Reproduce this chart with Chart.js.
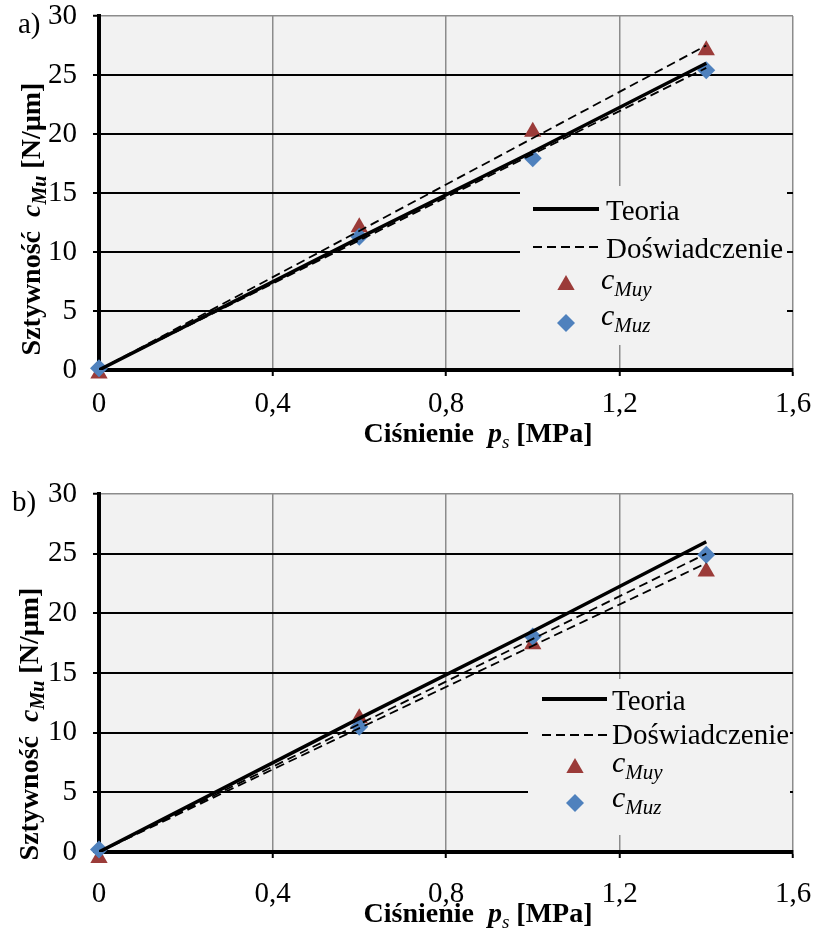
<!DOCTYPE html>
<html>
<head>
<meta charset="utf-8">
<script src="https://cdn.jsdelivr.net/npm/chart.js@4/dist/chart.umd.min.js"></script>
<style>
  html, body { margin: 0; padding: 0; background: #fff; }
  .panel { position: absolute; left: 0; width: 815px; }
  #wrapA { top: 0; height: 465px; }
  #wrapB { top: 465px; height: 464px; }
</style>
</head>
<body>
<div class="panel" id="wrapA"><canvas id="chartA" width="815" height="465"></canvas></div>
<div class="panel" id="wrapB"><canvas id="chartB" width="815" height="464"></canvas></div>
<script>
// dane
const cisnienie = [0, 0.6, 1.0, 1.4];
const zakresTrendu = [0, 1.4];
const xTicks = [0, 0.4, 0.8, 1.2, 1.6];
const xTickLabels = ["0", "0,4", "0,8", "1,2", "1,6"];
const yTicks = [0, 5, 10, 15, 20, 25, 30];

// a)
const teoriaA = [0, 11.2, 18.5, 26.0];
const cMuyA = [-0.3, 12.1, 20.2, 27.1];
const cMuzA = [0.15, 11.3, 17.95, 25.4];
const trendMuyA = [0, 27.5];
const trendMuzA = [0, 25.6];

// b)
const teoriaB = [0, 11.2, 18.5, 26.0];
const cMuyB = [-0.5, 11.2, 17.4, 23.5];
const cMuzB = [0.2, 10.5, 18.05, 24.9];
const trendMuzB = [0, 25.0];
const trendMuyB = [0, 24.2];

const SERIF = "'Liberation Serif', 'Times New Roman', serif";
const CZERWONY = "#9b3b39";
const NIEBIESKI = "#4f81bd";

function pkt(xs, ys) {
  return xs.map((x, i) => ({ x: x, y: ys[i] }));
}

function drawRich(ctx, parts, x, y, align) {
  let total = 0;
  parts.forEach(p => { ctx.font = p.font; total += ctx.measureText(p.t).width; });
  let cx = align === "center" ? x - total / 2 : x;
  ctx.textAlign = "left";
  ctx.textBaseline = "alphabetic";
  parts.forEach(p => {
    ctx.font = p.font;
    ctx.fillText(p.t, cx, y + (p.dy || 0));
    cx += ctx.measureText(p.t).width;
  });
}

const tloWykresu = {
  id: "tloWykresu",
  beforeDraw(chart) {
    const a = chart.chartArea;
    const ctx = chart.ctx;
    ctx.save();
    ctx.fillStyle = "#f2f2f2";
    ctx.fillRect(a.left, a.top, a.right - a.left, a.bottom - a.top);
    ctx.restore();
  }
};

function legendaPlugin(L) {
  return {
    id: "legenda",
    beforeDatasetsDraw(chart) {
      const ctx = chart.ctx;
      ctx.save();
      ctx.fillStyle = "#f2f2f2";
      ctx.fillRect(L.box[0], L.box[1], L.box[2], L.box[3]);
      ctx.strokeStyle = "#000";
      // Teoria
      ctx.lineWidth = 4;
      ctx.beginPath();
      ctx.moveTo(L.x0, L.y[0]);
      ctx.lineTo(L.x1, L.y[0]);
      ctx.stroke();
      // Doświadczenie
      ctx.lineWidth = 1.8;
      ctx.setLineDash([9, 5]);
      ctx.beginPath();
      ctx.moveTo(L.x0, L.y[1]);
      ctx.lineTo(L.x1, L.y[1]);
      ctx.stroke();
      ctx.setLineDash([]);
      // trójkąt
      const r = 10;
      ctx.fillStyle = CZERWONY;
      ctx.beginPath();
      ctx.moveTo(L.mx, L.y[2] - r);
      ctx.lineTo(L.mx + r * 0.866, L.y[2] + r / 2);
      ctx.lineTo(L.mx - r * 0.866, L.y[2] + r / 2);
      ctx.closePath();
      ctx.fill();
      // romb
      const d = 9;
      ctx.fillStyle = NIEBIESKI;
      ctx.beginPath();
      ctx.moveTo(L.mx, L.y[3] - d);
      ctx.lineTo(L.mx + d, L.y[3]);
      ctx.lineTo(L.mx, L.y[3] + d);
      ctx.lineTo(L.mx - d, L.y[3]);
      ctx.closePath();
      ctx.fill();
      // teksty
      ctx.fillStyle = "#000";
      drawRich(ctx, [{ t: "Teoria", font: "29px " + SERIF }], L.tx, L.b[0]);
      drawRich(ctx, [{ t: "Doświadczenie", font: "29px " + SERIF }], L.tx, L.b[1]);
      drawRich(ctx, [
        { t: "c", font: "italic 30px " + SERIF },
        { t: "Muy", font: "italic 21px " + SERIF, dy: 7 }
      ], L.cx, L.b[2]);
      drawRich(ctx, [
        { t: "c", font: "italic 30px " + SERIF },
        { t: "Muz", font: "italic 21px " + SERIF, dy: 7 }
      ], L.cx, L.b[3]);
      ctx.restore();
    }
  };
}

function tytulyPlugin(T) {
  return {
    id: "tytuly",
    afterDraw(chart) {
      const ctx = chart.ctx;
      ctx.save();
      ctx.fillStyle = "#000";
      drawRich(ctx, [{ t: T.litera, font: "29px " + SERIF }], T.lx, T.ly);
      drawRich(ctx, [
        { t: "Ciśnienie  ", font: "bold 28px " + SERIF },
        { t: "p", font: "bold italic 28px " + SERIF },
        { t: "s", font: "italic 19px " + SERIF, dy: 6 },
        { t: " [MPa]", font: "bold 28px " + SERIF }
      ], T.xx, T.xy, "center");
      ctx.translate(T.yx, T.yy);
      ctx.rotate(-Math.PI / 2);
      drawRich(ctx, [
        { t: "Sztywność  ", font: "bold 28px " + SERIF },
        { t: "c", font: "bold italic 28px " + SERIF },
        { t: "Mu", font: "bold italic 20px " + SERIF, dy: 6 },
        { t: " [N/µm]", font: "bold 28px " + SERIF }
      ], 0, 0, "center");
      ctx.restore();
    }
  };
}

function rysujWykres(id, P) {
  const ctx = document.getElementById(id).getContext("2d");
  return new Chart(ctx, {
    type: "scatter",
    data: {
      datasets: [
        { label: "Teoria", data: pkt(cisnienie, P.teoria), showLine: true, borderColor: "#000",
          borderWidth: 3.5, pointRadius: 0, order: 0 },
        { label: "Doświadczenie", data: pkt(zakresTrendu, P.trend1), showLine: true, borderColor: "#000",
          borderWidth: 1.8, borderDash: [9, 5], pointRadius: 0, order: 0 },
        { label: "Doświadczenie", data: pkt(zakresTrendu, P.trend2), showLine: true, borderColor: "#000",
          borderWidth: 1.8, borderDash: [9, 5], pointRadius: 0, order: 0 },
        { label: "cMuy", data: pkt(cisnienie, P.muy), pointStyle: "triangle", pointRadius: 10,
          backgroundColor: CZERWONY, borderColor: CZERWONY, borderWidth: 0, clip: false, order: 2 },
        { label: "cMuz", data: pkt(cisnienie, P.muz), pointStyle: "rectRot", pointRadius: 9,
          backgroundColor: NIEBIESKI, borderColor: NIEBIESKI, borderWidth: 0, clip: false, order: 1 }
      ]
    },
    options: {
      responsive: false,
      animation: false,
      events: [],
      layout: { padding: { top: P.top, left: 0, right: 22, bottom: 0 } },
      plugins: { legend: { display: false }, tooltip: { enabled: false } },
      scales: {
        x: {
          type: "linear",
          min: 0,
          max: 1.6,
          afterBuildTicks: s => { s.ticks = xTicks.map(v => ({ value: v })); },
          afterFit: s => { s.height = P.xh; s.paddingLeft = 0; s.paddingRight = 0; },
          ticks: {
            callback: (v, i) => xTickLabels[i],
            font: { family: SERIF, size: 29 },
            color: "#000",
            padding: P.xpad,
            maxRotation: 0,
            autoSkip: false
          },
          grid: {
            color: c => (c.tick && c.tick.value === 0 ? "rgba(0,0,0,0)" : "#8c8c8c"),
            lineWidth: 1.5,
            tickLength: 6,
            tickColor: "#000",
            tickWidth: 2
          },
          border: { color: "#000", width: 4 }
        },
        y: {
          type: "linear",
          min: 0,
          max: 30,
          afterBuildTicks: s => { s.ticks = yTicks.map(v => ({ value: v })); },
          afterFit: s => { s.width = 99; s.paddingTop = 0; s.paddingBottom = 0; },
          ticks: {
            callback: v => String(v),
            font: { family: SERIF, size: 29 },
            color: "#000",
            padding: 16
          },
          grid: {
            color: c => {
              const v = c.tick ? c.tick.value : null;
              if (v === 0) return "rgba(0,0,0,0)";
              if (v === 30) return "#8c8c8c";
              return "#000";
            },
            lineWidth: c => (c.tick && c.tick.value === 30 ? 1.5 : 2),
            tickLength: 6,
            tickColor: "#000",
            tickWidth: 2
          },
          border: { color: "#000", width: 4 }
        }
      }
    },
    plugins: [tloWykresu, legendaPlugin(P.legenda), tytulyPlugin(P.tytuly)]
  });
}

rysujWykres("chartA", {
  teoria: teoriaA, muy: cMuyA, muz: cMuzA, trend1: trendMuyA, trend2: trendMuzA,
  top: 16, xh: 95, xpad: 11,
  legenda: { box: [520, 186, 267, 159], x0: 533, x1: 599, mx: 566, tx: 606, cx: 601,
             y: [209, 247, 285, 323], b: [220, 258, 289, 325] },
  tytuly: { litera: "a)", lx: 18, ly: 33, xx: 478, xy: 442, yx: 40, yy: 219 }
});

rysujWykres("chartB", {
  teoria: teoriaB, muy: cMuyB, muz: cMuzB, trend1: trendMuzB, trend2: trendMuyB,
  top: 29, xh: 77, xpad: 19,
  legenda: { box: [528, 214, 262, 156], x0: 542, x1: 607, mx: 575, tx: 612, cx: 612,
             y: [234, 270, 303, 338], b: [245, 279, 307, 342] },
  tytuly: { litera: "b)", lx: 12, ly: 46, xx: 478, xy: 457, yx: 38, yy: 259 }
});
</script>
</body>
</html>
